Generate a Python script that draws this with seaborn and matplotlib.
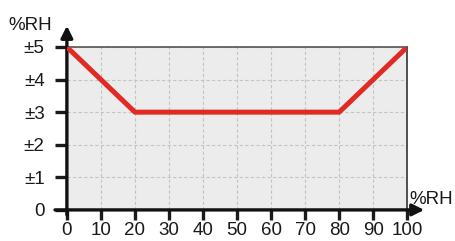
import matplotlib
matplotlib.use("Agg")
import matplotlib.pyplot as plt
import seaborn as sns
import pandas as pd

# data
rh_x = [0, 20, 80, 100]
tol_y = [5, 3, 3, 5]
x_ticks = [0, 10, 20, 30, 40, 50, 60, 70, 80, 90, 100]
y_ticks = [0, 1, 2, 3, 4, 5]
y_labels = ["0", "±1", "±2", "±3", "±4", "±5"]

sns.set_style("white")
plt.rcParams['font.family'] = ['Liberation Sans', 'DejaVu Sans']

df = pd.DataFrame({"x": rh_x, "y": tol_y})

fig = plt.figure(figsize=(4.55, 2.41), dpi=100)
ax = fig.add_axes([0.147, 0.129, 0.748, 0.676])
ax.set_facecolor("#ececec")

sns.lineplot(data=df, x="x", y="y", ax=ax, color="#e02a22", linewidth=3.6,
             solid_capstyle="butt", zorder=5)

ax.set_xlim(0, 100)
ax.set_ylim(0, 5)
ax.set_xticks(x_ticks)
ax.set_yticks(y_ticks)
ax.set_yticklabels(y_labels)
ax.set_xlabel("")
ax.set_ylabel("")
ax.grid(True, color="#c4c4c4", linestyle=(0, (3, 2)), linewidth=0.8)
ax.tick_params(axis="both", labelsize=13.5, colors="#1a1a1a", width=2.4,
               length=7.5, direction="out", bottom=True, left=True)
ax.tick_params(axis="x", pad=1.5)
ax.tick_params(axis="y", pad=7, length=9)

for s in ["left", "bottom"]:
    ax.spines[s].set_visible(False)
ax.spines["top"].set_color("#555555")
ax.spines["top"].set_linestyle((0, (1.5, 1)))
ax.spines["top"].set_linewidth(1.2)
ax.spines["right"].set_color("#333333")
ax.spines["right"].set_linewidth(1.2)

# axis arrows
ax.annotate("", xy=(0, 1.13), xytext=(0, -0.03), xycoords="axes fraction",
            arrowprops=dict(arrowstyle="-|>,head_length=0.7,head_width=0.35",
                            color="#111111", lw=2.4, shrinkA=0, shrinkB=0),
            annotation_clip=False)
ax.annotate("", xy=(1.05, 0), xytext=(-0.035, 0), xycoords="axes fraction",
            arrowprops=dict(arrowstyle="-|>,head_length=0.7,head_width=0.35",
                            color="#111111", lw=2.4, shrinkA=0, shrinkB=0),
            annotation_clip=False)

fig.text(0.018, 0.895, "%RH", fontsize=13.5, color="#1a1a1a", va="center")
fig.text(0.996, 0.174, "%RH", fontsize=13.5, color="#1a1a1a", va="center", ha="right")

fig.savefig("out.png", dpi=100)
